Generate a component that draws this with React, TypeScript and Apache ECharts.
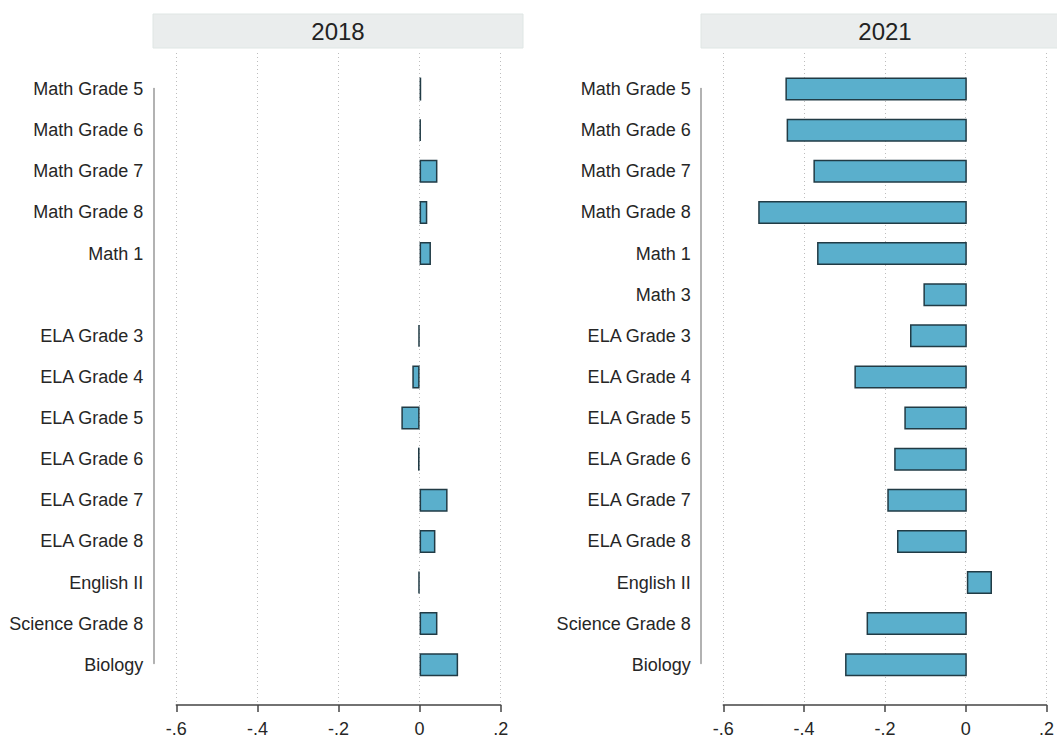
import React, { useEffect, useRef } from "react";
import * as echarts from "echarts";

// Subjects, listed top to bottom
const categories = [
  "Math Grade 5",
  "Math Grade 6",
  "Math Grade 7",
  "Math Grade 8",
  "Math 1",
  "Math 3",
  "ELA Grade 3",
  "ELA Grade 4",
  "ELA Grade 5",
  "ELA Grade 6",
  "ELA Grade 7",
  "ELA Grade 8",
  "English II",
  "Science Grade 8",
  "Biology",
];

// Effect sizes by year (null = subject not tested that year)
const values2018: (number | null)[] = [
  0.004, 0.003, 0.044, 0.019, 0.028, null, -0.003, -0.018, -0.045, -0.004, 0.069, 0.039, -0.003, 0.044, 0.095,
];
const values2021: (number | null)[] = [
  -0.447, -0.444, -0.378, -0.514, -0.369, -0.107, -0.14, -0.277, -0.154, -0.179, -0.196, -0.172, 0.062, -0.247, -0.3,
];

const panelTitles = ["2018", "2021"];
const xMin = -0.6;
const xMax = 0.2;
const xStep = 0.2;
const tickLabels = ["-.6", "-.4", "-.2", "0", ".2"];

const FONT = "'Liberation Sans', Arial, Helvetica, sans-serif";
const TEXT = "#262626";
const BAR_FILL = "#5aafcc";
const BAR_EDGE = "#213b45";

// Panel geometry (pixels)
const layout = [
  { plotLeft: 176.3, plotWidth: 324.4, lineX: 153.3, headerX: 153, headerW: 370, labelGap: 33 },
  { plotLeft: 723.3, plotWidth: 324.7, lineX: 700.7, headerX: 701, headerW: 368, labelGap: 32.6 },
];
const axisTop = 53;
const axisBottom = 705;
const rowTop = 68.5;
const rowHeight = 616.8;
const lineTop = 88.5;
const lineBottom = 663.5;

function tickText(v: number): string {
  const i = Math.round((v - xMin) / xStep);
  return tickLabels[i] ?? "";
}

export default function App() {
  const ref = useRef<HTMLDivElement>(null);

  useEffect(() => {
    document.body.style.margin = "0";
    if (!ref.current) return;
    const chart = echarts.init(ref.current, undefined, { renderer: "svg" });

    const grids: any[] = [];
    const xAxes: any[] = [];
    const yAxes: any[] = [];
    const series: any[] = [];
    const graphics: any[] = [];

    [values2018, values2021].forEach((vals, p) => {
      const L = layout[p];
      const g0 = p * 3;

      // grid with the x axis and dotted vertical gridlines
      grids.push({ left: L.plotLeft, width: L.plotWidth, top: axisTop, height: axisBottom - axisTop });
      xAxes.push({
        gridIndex: g0,
        type: "value",
        min: xMin,
        max: xMax,
        interval: xStep,
        axisLine: { show: true, onZero: false, lineStyle: { color: "#444", width: 1.5 } },
        axisTick: { show: true, length: 7, lineStyle: { color: "#444", width: 1.5 } },
        axisLabel: { margin: 15, fontSize: 18, fontFamily: FONT, color: TEXT, formatter: tickText },
        splitLine: { show: true, lineStyle: { color: "#bdbdbd", width: 1, type: [1, 3] } },
      });
      yAxes.push({ gridIndex: g0, type: "value", show: false });

      // grid with the category rows and the bars
      grids.push({ left: L.plotLeft, width: L.plotWidth, top: rowTop, height: rowHeight });
      xAxes.push({ gridIndex: g0 + 1, type: "value", min: xMin, max: xMax, show: false });
      yAxes.push({
        gridIndex: g0 + 1,
        type: "category",
        inverse: true,
        data: categories,
        axisLine: { show: false },
        axisTick: { show: false },
        splitLine: { show: false },
        axisLabel: {
          margin: L.labelGap,
          fontSize: 18,
          fontFamily: FONT,
          color: TEXT,
          interval: 0,
          formatter: (name: string, idx: number) => (vals[idx] === null ? "" : name),
        },
      });
      series.push({
        type: "bar",
        xAxisIndex: g0 + 1,
        yAxisIndex: g0 + 1,
        data: vals.map((v) => (v === null ? null : v)),
        barWidth: 23,
        itemStyle: { color: BAR_FILL, borderColor: BAR_EDGE, borderWidth: 1.5 },
        silent: true,
      });

      // grid holding only the short vertical axis line beside the labels
      grids.push({ left: L.lineX, width: 10, top: lineTop, height: lineBottom - lineTop });
      xAxes.push({ gridIndex: g0 + 2, type: "value", show: false });
      yAxes.push({
        gridIndex: g0 + 2,
        type: "value",
        min: 0,
        max: 1,
        axisLine: { show: true, lineStyle: { color: "#999", width: 1.5 } },
        axisTick: { show: false },
        axisLabel: { show: false },
        splitLine: { show: false },
      });

      // panel header strip
      graphics.push({
        type: "rect",
        shape: { x: L.headerX, y: 14, width: L.headerW, height: 34 },
        style: { fill: "#eaeded", stroke: "#dfe6e4", lineWidth: 1 },
        silent: true,
      });
      graphics.push({
        type: "text",
        x: L.headerX + L.headerW / 2,
        y: 31,
        style: {
          text: panelTitles[p],
          fontSize: 24,
          fontFamily: FONT,
          fill: "#222",
          align: "center",
          verticalAlign: "middle",
        },
        silent: true,
      });
    });

    chart.setOption({
      animation: false,
      backgroundColor: "#ffffff",
      grid: grids,
      xAxis: xAxes,
      yAxis: yAxes,
      series,
      graphic: graphics,
    });

    return () => chart.dispose();
  }, []);

  return <div ref={ref} style={{ width: 1057, height: 740 }} />;
}
